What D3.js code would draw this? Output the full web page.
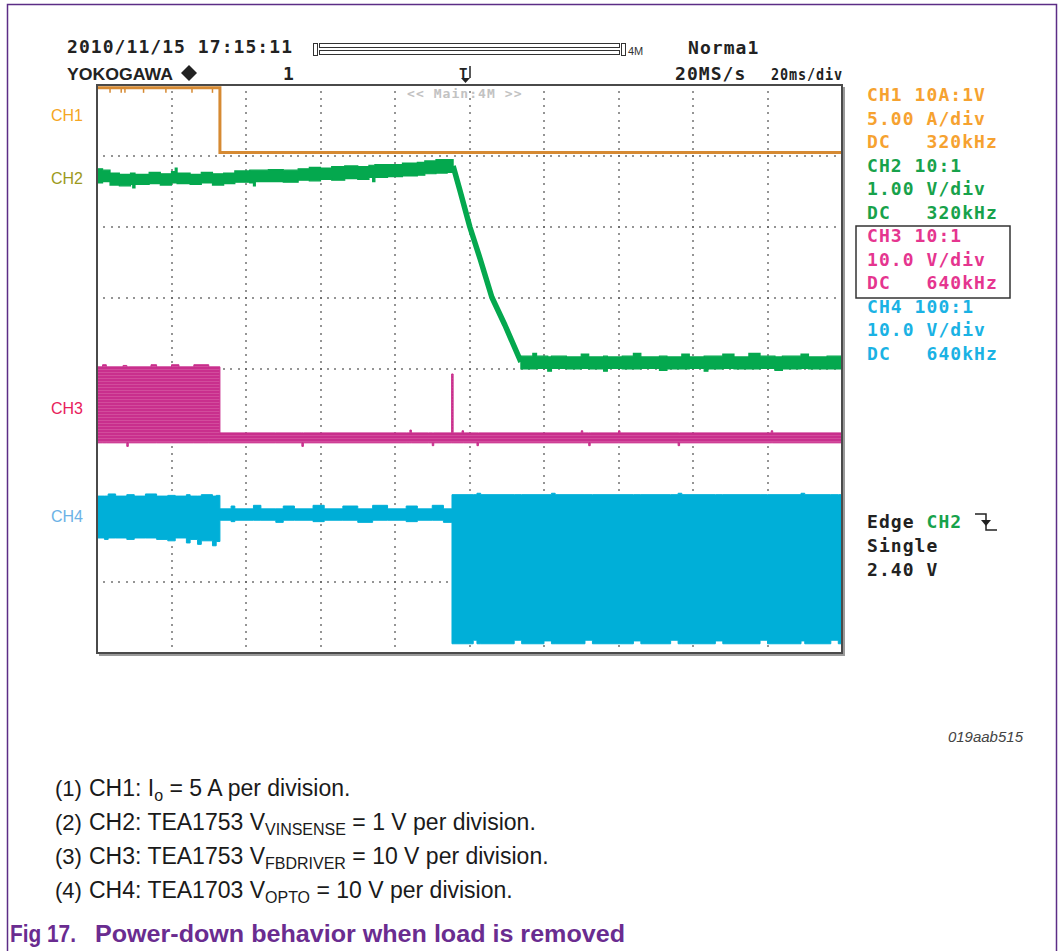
<!DOCTYPE html>
<html>
<head>
<meta charset="utf-8">
<script src="https://cdn.jsdelivr.net/npm/d3@7/dist/d3.min.js"></script>
<style>
	body { margin: 0; background: #fff; }
	svg { display: block; }
	.mono { font-family: "DejaVu Sans Mono", monospace; font-weight: bold; letter-spacing: 1.06px; white-space: pre; }
	.sans { font-family: "Liberation Sans", Arial, sans-serif; }
</style>
</head>
<body>
<svg id="scope"></svg>
<script>
// time axis: 20 ms/div, 10 divisions; vertical: 8 divisions, 0 = centre line
const timeDomain = [0, 200];
const divDomain = [-4, 4];
const timeTicks = [0, 20, 40, 60, 80, 100, 120, 140, 160, 180, 200];
const divTicks = [-4, -3, -2, -1, 0, 1, 2, 3, 4];

// CH1 output current [ms, div]
const ch1Trace = [[0, 3.96], [33, 3.96], [33, 3.05], [200, 3.05]];
const ch1Glitches = [3.5, 6.5, 7.5, 12.5, 18.5, 25.5, 31];

// CH2 Vinsense envelope [ms, low div, high div]
const ch2Before = [
	[0, 2.62, 2.82], [1.5, 2.64, 2.8], [3.5, 2.59, 2.76], [6, 2.58, 2.74], [9, 2.6, 2.76],
	[9.6, 2.55, 2.76], [10.2, 2.6, 2.74], [14, 2.61, 2.77], [17, 2.59, 2.75], [20, 2.62, 2.78],
	[21, 2.62, 2.83], [21.5, 2.61, 2.76], [25, 2.6, 2.74], [28, 2.62, 2.77], [31, 2.59, 2.75],
	[34, 2.61, 2.76], [37, 2.63, 2.79], [41, 2.62, 2.8], [42, 2.58, 2.8], [42.5, 2.64, 2.8],
	[46, 2.64, 2.81], [50, 2.63, 2.8], [54, 2.66, 2.82], [57, 2.65, 2.84], [60, 2.67, 2.83],
	[63, 2.66, 2.85], [66.5, 2.68, 2.86], [70, 2.67, 2.85], [73, 2.7, 2.87], [74, 2.64, 2.87],
	[74.6, 2.7, 2.88], [78, 2.71, 2.88], [82, 2.72, 2.9], [86, 2.73, 2.91], [88, 2.75, 2.93],
	[91, 2.76, 2.95], [94, 2.77, 2.95], [95.6, 2.77, 2.95],
];
// CH2 falling edge [ms, div]
const ch2Ramp = [[95.6, 2.86], [97.4, 2.52], [100.1, 2.0], [102.8, 1.56], [106, 1.01], [109.5, 0.62], [113.8, 0.1]];
const ch2After = [
	[113.8, 0.0, 0.18], [117, 0.0, 0.22], [118, 0.01, 0.18], [121, -0.03, 0.17], [122, 0.01, 0.18],
	[126, 0.0, 0.17], [130, 0.01, 0.21], [132, 0.0, 0.17], [136, -0.03, 0.18], [137, 0.01, 0.17],
	[141, 0.0, 0.18], [144, 0.0, 0.22], [146, 0.01, 0.17], [151, -0.02, 0.18], [153, 0.0, 0.17],
	[157, 0.0, 0.21], [159, 0.01, 0.17], [163, -0.03, 0.18], [164, 0.0, 0.18], [168, 0.01, 0.21],
	[171, 0.0, 0.17], [175, 0.0, 0.22], [178, 0.01, 0.18], [182, -0.02, 0.17], [184, 0.0, 0.18],
	[189, 0.01, 0.21], [191, 0.0, 0.17], [196, 0.0, 0.18], [200, 0.0, 0.18],
];

// CH3 Vfbdriver envelope [ms, low div, high div]
const ch3Trace = [
	[0, -1.04, 0.03], [1.5, -1.04, 0.06], [2.5, -1.04, 0.03], [7, -1.04, 0.05], [8, -1.09, 0.03],
	[8.4, -1.04, 0.03], [14.5, -1.04, 0.06], [16, -1.04, 0.03], [20, -1.04, 0.06], [22, -1.04, 0.03],
	[26, -1.04, 0.06], [30, -1.04, 0.03], [33, -1.04, -0.9], [48, -1.04, -0.9], [55, -1.09, -0.9],
	[55.4, -1.04, -0.9], [83, -1.04, -0.9], [84, -1.04, -0.86], [84.4, -1.04, -0.9],
	[89, -1.04, -0.9], [90, -1.08, -0.9], [90.4, -1.04, -0.9], [95.2, -1.04, -0.07],
	[95.6, -1.04, -0.9], [98, -1.04, -0.87], [98.4, -1.04, -0.9], [102, -1.08, -0.9],
	[102.4, -1.04, -0.9], [130, -1.04, -0.87], [130.4, -1.04, -0.9], [132, -1.08, -0.9],
	[132.4, -1.04, -0.9], [140, -1.04, -0.87], [140.4, -1.04, -0.9], [156, -1.08, -0.9],
	[156.4, -1.04, -0.9], [181, -1.04, -0.87], [181.4, -1.04, -0.9], [200, -1.04, -0.9],
];

// CH4 Vopto envelope [ms, low div, high div]
const ch4Trace = [
	[0, -2.38, -1.79], [2, -2.4, -1.79], [3, -2.38, -1.76], [5, -2.38, -1.79], [8, -2.4, -1.77],
	[10, -2.38, -1.79], [13, -2.38, -1.76], [16, -2.4, -1.79], [19, -2.42, -1.78], [21, -2.38, -1.79],
	[24, -2.45, -1.77], [25, -2.4, -1.79], [27, -2.47, -1.79], [28, -2.42, -1.77], [31, -2.49, -1.79],
	[32, -2.43, -1.78], [33, -2.13, -1.97], [36, -2.15, -1.93], [37, -2.13, -1.97], [42, -2.13, -1.92],
	[44, -2.13, -1.97], [48, -2.16, -1.97], [50, -2.13, -1.93], [53, -2.13, -1.97], [58, -2.15, -1.92],
	[61, -2.13, -1.97], [66, -2.13, -1.93], [70, -2.16, -1.97], [74, -2.13, -1.92], [78, -2.13, -1.97],
	[83, -2.15, -1.93], [86, -2.13, -1.97], [90, -2.13, -1.92], [93, -2.16, -1.97], [95.3, -3.87, -1.77],
	[101, -3.82, -1.77], [102, -3.87, -1.75], [103, -3.87, -1.77], [112, -3.82, -1.77], [114, -3.87, -1.77],
	[120, -3.83, -1.77], [122, -3.87, -1.75], [123, -3.87, -1.77], [131, -3.82, -1.77], [133, -3.87, -1.77],
	[144, -3.83, -1.77], [146, -3.87, -1.77], [154, -3.82, -1.77], [156, -3.87, -1.75], [157, -3.87, -1.77],
	[166, -3.83, -1.77], [168, -3.87, -1.77], [178, -3.82, -1.77], [180, -3.87, -1.77], [189, -3.83, -1.75],
	[190, -3.87, -1.77], [197, -3.82, -1.77], [199, -3.87, -1.77], [200, -3.87, -1.77],
];

// channel marker levels (div) at which the CH labels sit
const labelLevels = [3.58, 2.69, -0.55, -2.07];

const channelInfo = [
	['CH1 10A:1V', '5.00 A/div', 'DC   320kHz'],
	['CH2 10:1', '1.00 V/div', 'DC   320kHz'],
	['CH3 10:1', '10.0 V/div', 'DC   640kHz'],
	['CH4 100:1', '10.0 V/div', 'DC   640kHz'],
];
const triggerInfo = ['Single', '2.40 V'];
const notes = [
	['(1)', 'CH1: I', 'o', ' = 5 A per division.'],
	['(2)', 'CH2: TEA1753 V', 'VINSENSE', ' = 1 V per division.'],
	['(3)', 'CH3: TEA1753 V', 'FBDRIVER', ' = 10 V per division.'],
	['(4)', 'CH4: TEA1703 V', 'OPTO', ' = 10 V per division.'],
];

class ScopeChart {
	constructor(_config) {
		this.config = {
			parentElement: _config.parentElement,
			containerWidth: 1063,
			containerHeight: 951,
			margin: { top: 85, left: 97 },
			width: 745,
			height: 568,
		};
		this.colors = {
			ch1: '#d68a33', ch2: '#04a84e', ch3: '#c92f8d', ch4: '#00afd8',
			ch1Text: '#f6a230', ch2Text: '#17a24b', ch3Text: '#e5358f', ch4Text: '#1ab2e4',
			ch1Label: '#f5a623', ch2Label: '#9c9a1c', ch3Label: '#e8205a', ch4Label: '#6cb2e6',
		};
		this.initVis();
	}

	initVis() {
		let vis = this;
		const cfg = vis.config;

		vis.svg = d3.select(cfg.parentElement)
			.attr('width', cfg.containerWidth)
			.attr('height', cfg.containerHeight);

		// outer figure frame
		vis.svg.append('path')
			.attr('d', 'M7.5,951 V4.5 H1056.5 V951')
			.attr('fill', 'none')
			.attr('stroke', '#5c2d86')
			.attr('stroke-width', 1.5);

		vis.xScale = d3.scaleLinear().domain(timeDomain).range([0, cfg.width]);
		vis.yScale = d3.scaleLinear().domain(divDomain).range([cfg.height, 0]);

		const defs = vis.svg.append('defs');
		defs.append('clipPath').attr('id', 'plot-clip')
			.append('rect').attr('width', cfg.width).attr('height', cfg.height);

		// striped fill for the gate drive burst
		const pat = defs.append('pattern')
			.attr('id', 'ch3-stripes')
			.attr('patternUnits', 'userSpaceOnUse')
			.attr('width', 6).attr('height', 3);
		pat.append('rect').attr('width', 6).attr('height', 3).attr('fill', vis.colors.ch3);
		pat.append('rect').attr('y', 2).attr('width', 6).attr('height', 1).attr('fill', '#d24c9c');

		vis.chart = vis.svg.append('g')
			.attr('transform', `translate(${cfg.margin.left},${cfg.margin.top})`);

		vis.gridG = vis.chart.append('g').attr('class', 'grid');
		vis.traceG = vis.chart.append('g').attr('clip-path', 'url(#plot-clip)');
		vis.frameG = vis.chart.append('g');
	}

	renderGrid() {
		let vis = this;
		const dotsX = d3.range(timeDomain[0], timeDomain[1] + 0.001, 2);
		const dotsY = d3.range(divDomain[0], divDomain[1] + 0.001, 0.1);
		const pts = [];
		timeTicks.slice(1, -1).forEach((t) => dotsY.forEach((v) => pts.push([t, v])));
		divTicks.slice(1, -1).forEach((v) => dotsX.slice(1, -1).forEach((t) => pts.push([t, v])));

		vis.gridG.selectAll('rect')
			.data(pts)
			.join('rect')
			.attr('x', (d) => Math.round(vis.xScale(d[0])) - 0.8)
			.attr('y', (d) => Math.round(vis.yScale(d[1])) - 0.8)
			.attr('width', 1.6)
			.attr('height', 1.6)
			.attr('fill', '#5a5a5a');
	}

	renderTraces() {
		let vis = this;
		const x = vis.xScale, y = vis.yScale;

		const band = d3.area()
			.x((d) => x(d[0]))
			.y0((d) => y(d[1]))
			.y1((d) => y(d[2]))
			.curve(d3.curveStepAfter);

		// CH4
		vis.traceG.append('path')
			.attr('d', band(ch4Trace))
			.attr('fill', vis.colors.ch4)
			.attr('stroke', vis.colors.ch4)
			.attr('stroke-width', 1);

		// CH3
		vis.traceG.append('path')
			.attr('d', band(ch3Trace))
			.attr('fill', 'url(#ch3-stripes)')
			.attr('stroke', vis.colors.ch3)
			.attr('stroke-width', 1);

		// CH2
		[ch2Before, ch2After].forEach((seg) => {
			vis.traceG.append('path')
				.attr('d', band(seg))
				.attr('fill', vis.colors.ch2)
				.attr('stroke', vis.colors.ch2)
				.attr('stroke-width', 1.2);
		});
		vis.traceG.append('path')
			.attr('d', d3.line().x((d) => x(d[0])).y((d) => y(d[1]))(ch2Ramp))
			.attr('fill', 'none')
			.attr('stroke', vis.colors.ch2)
			.attr('stroke-width', 5.5)
			.attr('stroke-linejoin', 'round');

		// CH1
		vis.traceG.append('path')
			.attr('d', d3.line().x((d) => x(d[0])).y((d) => y(d[1]))(ch1Trace))
			.attr('fill', 'none')
			.attr('stroke', vis.colors.ch1)
			.attr('stroke-width', 3);
		vis.traceG.selectAll('.ch1-glitch')
			.data(ch1Glitches)
			.join('line')
			.attr('class', 'ch1-glitch')
			.attr('x1', (d) => x(d)).attr('x2', (d) => x(d))
			.attr('y1', y(ch1Trace[0][1]))
			.attr('y2', y(ch1Trace[0][1]) + 5)
			.attr('stroke', vis.colors.ch1)
			.attr('stroke-width', 1.5);

		// scope screen border with shadow
		const cfg = vis.config;
		vis.frameG.append('path')
			.attr('d', `M${cfg.width + 2},2 V${cfg.height + 2} H2`)
			.attr('fill', 'none')
			.attr('stroke', '#9a9a9a')
			.attr('stroke-width', 2);
		vis.frameG.append('rect')
			.attr('width', cfg.width)
			.attr('height', cfg.height)
			.attr('fill', 'none')
			.attr('stroke', '#4a4a4a')
			.attr('stroke-width', 2);
	}

	renderText() {
		let vis = this;
		const svg = vis.svg;
		const mono = (x, yy, txt, color, size) => svg.append('text')
			.attr('class', 'mono')
			.attr('x', x).attr('y', yy)
			.attr('font-size', size || 18)
			.attr('fill', color || '#222')
			.text(txt);

		// header
		mono(67, 53, '2010/11/15 17:15:11');
		svg.append('text').attr('class', 'sans')
			.attr('x', 67).attr('y', 80)
			.attr('font-size', 17).attr('font-weight', 'bold')
			.attr('textLength', 106).attr('lengthAdjust', 'spacingAndGlyphs')
			.attr('fill', '#222')
			.text('YOKOGAWA');
		svg.append('path')
			.attr('d', 'M189,65 L197,73 L189,81 L181,73 Z')
			.attr('fill', '#222');
		mono(283, 80, '1');

		// record length bar
		svg.append('rect').attr('x', 313.5).attr('y', 43.5).attr('width', 4).attr('height', 12)
			.attr('fill', 'none').attr('stroke', '#333');
		svg.append('rect').attr('x', 319.5).attr('y', 43.5).attr('width', 300).attr('height', 4)
			.attr('fill', 'none').attr('stroke', '#333');
		svg.append('rect').attr('x', 319.5).attr('y', 50.5).attr('width', 300).attr('height', 4)
			.attr('fill', 'none').attr('stroke', '#333');
		svg.append('rect').attr('x', 621.5).attr('y', 43.5).attr('width', 4).attr('height', 12)
			.attr('fill', 'none').attr('stroke', '#333');
		svg.append('text').attr('class', 'sans')
			.attr('x', 628).attr('y', 55).attr('font-size', 11).attr('fill', '#333')
			.text('4M');

		// trigger position marker
		mono(459, 78, 'T', '#222', 14);
		svg.append('path').attr('d', 'M470,66 V78').attr('stroke', '#222').attr('stroke-width', 1.5);
		svg.append('path').attr('d', 'M461,78 H470 L465.5,83 Z').attr('fill', '#222');

		mono(688, 54, 'Norma1');
		mono(675, 80, '20MS/s');
		svg.append('text').attr('class', 'mono')
			.attr('x', 771).attr('y', 80).attr('font-size', 16)
			.attr('textLength', 72).attr('lengthAdjust', 'spacingAndGlyphs')
			.attr('fill', '#222')
			.text('20ms/div');
		svg.append('text').attr('class', 'mono')
			.attr('x', 407).attr('y', 98).attr('font-size', 13)
			.attr('font-weight', 'normal').attr('fill', '#c2c2c2')
			.text('<< Main:4M >>');

		// channel settings column
		const infoColors = [vis.colors.ch1Text, vis.colors.ch2Text, vis.colors.ch3Text, vis.colors.ch4Text];
		channelInfo.forEach((rows, i) => {
			rows.forEach((r, j) => mono(867, 101 + (i * 3 + j) * 23.5, r, infoColors[i]));
		});
		svg.append('rect')
			.attr('x', 856).attr('y', 226).attr('width', 154).attr('height', 72)
			.attr('fill', 'none').attr('stroke', '#333').attr('stroke-width', 1.5);

		// trigger settings
		const edge = mono(867, 528, 'Edge ');
		edge.append('tspan').attr('fill', vis.colors.ch2Text).text('CH2');
		svg.append('path')
			.attr('d', 'M975,514 H986 V530 H997')
			.attr('fill', 'none').attr('stroke', '#222').attr('stroke-width', 1.5);
		svg.append('path')
			.attr('d', 'M981,520 H991 L986,526 Z')
			.attr('fill', '#222');
		triggerInfo.forEach((r, i) => mono(867, 552 + i * 23.5, r));

		// channel labels left of the screen
		const labelColors = [vis.colors.ch1Label, vis.colors.ch2Label, vis.colors.ch3Label, vis.colors.ch4Label];
		labelLevels.forEach((lv, i) => {
			svg.append('text').attr('class', 'sans')
				.attr('x', 51)
				.attr('y', vis.config.margin.top + vis.yScale(lv) + 6)
				.attr('font-size', 16)
				.attr('fill', labelColors[i])
				.text(`CH${i + 1}`);
		});

		svg.append('text').attr('class', 'sans')
			.attr('x', 1023).attr('y', 742)
			.attr('text-anchor', 'end')
			.attr('font-size', 15).attr('font-style', 'italic')
			.attr('fill', '#444')
			.text('019aab515');

		// notes
		notes.forEach((n, i) => {
			const yy = 796 + i * 34;
			svg.append('text').attr('class', 'sans')
				.attr('x', 55).attr('y', yy).attr('font-size', 22).attr('fill', '#1a1a1a')
				.text(n[0]);
			const t = svg.append('text').attr('class', 'sans')
				.attr('x', 89).attr('y', yy).attr('font-size', 23).attr('fill', '#1a1a1a');
			t.append('tspan').text(n[1]);
			t.append('tspan').attr('font-size', 16).attr('dy', 5).text(n[2]);
			t.append('tspan').attr('dy', -5).text(n[3]);
		});

		svg.append('text').attr('class', 'sans')
			.attr('x', 10).attr('y', 942)
			.attr('font-size', 23).attr('font-weight', 'bold')
			.attr('textLength', 66).attr('lengthAdjust', 'spacingAndGlyphs')
			.attr('fill', '#6a2c90')
			.text('Fig 17.');
		svg.append('text').attr('class', 'sans')
			.attr('x', 95).attr('y', 942)
			.attr('font-size', 23).attr('font-weight', 'bold')
			.attr('textLength', 530).attr('lengthAdjust', 'spacingAndGlyphs')
			.attr('fill', '#6a2c90')
			.text('Power-down behavior when load is removed');
	}

	render() {
		this.renderGrid();
		this.renderTraces();
		this.renderText();
	}
}

const scope = new ScopeChart({ parentElement: '#scope' });
scope.render();
</script>
</body>
</html>
